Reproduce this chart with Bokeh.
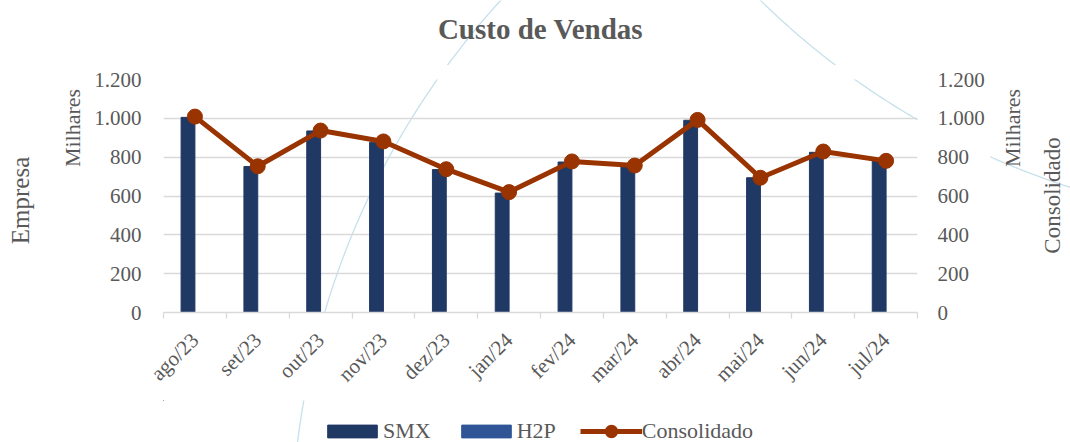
import numpy as np
from bokeh.plotting import figure
from bokeh.layouts import column, row
from bokeh.models import (Range1d, LinearAxis, FixedTicker, Legend, LegendItem, Label)
from bokeh.embed import file_html
from bokeh.resources import INLINE

# ---------------- data ----------------
months = ["ago/23", "set/23", "out/23", "nov/23", "dez/23", "jan/24",
          "fev/24", "mar/24", "abr/24", "mai/24", "jun/24", "jul/24"]
smx = [1005, 752, 935, 877, 736, 615, 775, 755, 990, 694, 825, 780]
h2p = [0, 0, 0, 0, 0, 0, 0, 0, 0, 0, 0, 0]
consolidado = [1009, 753, 937, 881, 738, 620, 778, 757, 992, 694, 829, 781]
y_ticks = [0, 200, 400, 600, 800, 1000, 1200]
y_tick_labels = ["0", "200", "400", "600", "800", "1.000", "1.200"]
series_names = ["SMX", "H2P", "Consolidado"]
title_text = "Custo de Vendas"
left_titles = ["Empresa", "Milhares"]
right_titles = ["Milhares", "Consolidado"]

# ---------------- style ----------------
FONT = "Liberation Serif"
TXT = "#595959"
GRID = "#D9D9D9"
NAVY = "#203864"
BLUE = "#2F5597"
RUST = "#993300"
ARC = "#C6E0EC"

W, H = 1070, 442
LS, RS = 88, 990                            # page x where the side strips end / start
TOP_H, MID_H, LEG_H = 65, 335, 42           # page strips: title / chart / legend
FL, FR, FT, FB = 163, 917, 79, 312          # frame edges in page px
CW = RS - LS                                # width of the centre column

n = len(months)
centers = np.arange(n) + 0.5
bounds = list(np.arange(n + 1).astype(float))

ARCS = ((1093, 540, 802, 290, 505, True), (1308, -558, 782, 755, 1075, False))

def arc_xy(cx, cy, r, x_from, x_to, upper, npts=160):
    xs = np.linspace(x_from, x_to, npts)
    d = np.sqrt(np.clip(r * r - (xs - cx) ** 2, 0, None))
    ys = cy - d if upper else cy + d
    return xs, ys

def bare(f):
    f.axis.visible = False
    f.grid.visible = False
    f.outline_line_color = None
    for a in ARCS:
        xs, ys = arc_xy(*a)
        f.line(xs, ys, line_color=ARC, line_width=1.3, level="underlay")
    return f

def strip(height, y0):
    f = figure(width=CW, height=height, x_range=Range1d(FL, FR),
               y_range=Range1d(y0 + height, y0), output_backend="svg",
               toolbar_location=None, min_border=0)
    return bare(f)

def side(x0, x1):
    f = figure(width=x1 - x0, height=H, x_range=Range1d(x0, x1), y_range=Range1d(FB, FT),
               output_backend="svg", toolbar_location=None, min_border_left=0,
               min_border_right=0, min_border_top=FT, min_border_bottom=H - FB)
    return bare(f)

def vlabel(f, text, x, y, size):
    f.add_layout(Label(x=x, y=y, text=text, angle=np.pi / 2, text_font=FONT,
                       text_font_size=size, text_color=TXT, text_align="center",
                       text_baseline="middle"))

# ---------------- side strips with the axis titles ----------------
sl = side(0, LS)
vlabel(sl, left_titles[0], 20, 200, "25px")
vlabel(sl, left_titles[1], 72, 127.5, "22px")
sr = side(RS, W)
vlabel(sr, right_titles[0], 1012, 127.5, "22px")
vlabel(sr, right_titles[1], 1052, 195, "23px")

# ---------------- title strip ----------------
tf = strip(TOP_H, 0)
tf.add_layout(Label(x=540, y=28, text=title_text, text_font=FONT, text_font_size="29px",
                    text_font_style="bold", text_color=TXT, text_align="center",
                    text_baseline="alphabetic"))

# ---------------- chart ----------------
p = figure(width=CW, height=MID_H, x_range=Range1d(0, n), y_range=Range1d(0, 1200),
           output_backend="svg", toolbar_location=None,
           min_border_left=FL - LS, min_border_right=RS - FR,
           min_border_top=FT - TOP_H, min_border_bottom=TOP_H + MID_H - FB)
p.outline_line_color = None
p.extra_y_ranges = {"cons": Range1d(0, 1200)}

p.xgrid.visible = False
p.ygrid.ticker = FixedTicker(ticks=y_ticks)
p.ygrid.grid_line_color = GRID
p.ygrid.grid_line_width = 1.3

overrides_y = {t: l for t, l in zip(y_ticks, y_tick_labels)}

def style_y(ax, standoff):
    ax.ticker = FixedTicker(ticks=y_ticks)
    ax.major_label_overrides = overrides_y
    ax.axis_line_color = None
    ax.major_tick_line_color = None
    ax.minor_tick_line_color = None
    ax.major_tick_out = 0
    ax.major_tick_in = 0
    ax.minor_tick_out = 0
    ax.minor_tick_in = 0
    ax.major_label_standoff = standoff
    ax.major_label_text_font = FONT
    ax.major_label_text_font_size = "21px"
    ax.major_label_text_color = TXT

style_y(p.yaxis[0], 22)
ry = LinearAxis(y_range_name="cons")
style_y(ry, 20)
p.add_layout(ry, "right")

xa = p.xaxis[0]
xa.ticker = FixedTicker(ticks=list(centers), minor_ticks=bounds)
xa.major_label_overrides = {float(c): m for c, m in zip(centers, months)}
xa.major_label_orientation = np.pi / 4
xa.major_tick_line_color = None
xa.major_tick_out = 0
xa.minor_tick_line_color = GRID
xa.minor_tick_line_width = 1.3
xa.minor_tick_in = 0
xa.minor_tick_out = 6
xa.axis_line_color = GRID
xa.axis_line_width = 1.3
xa.major_label_text_font = FONT
xa.major_label_text_font_size = "21px"
xa.major_label_text_color = TXT
xa.major_label_standoff = 18

# decorative arcs inside the chart frame (page px -> data)
for a in ARCS:
    xs, ys = arc_xy(*a)
    p.line((xs - FL) / (FR - FL) * n, (FB - ys) / (FB - FT) * 1200,
           line_color=ARC, line_width=1.3, level="underlay")

bw = 0.22
p.vbar(x=centers - bw / 2, top=smx, width=bw, fill_color=NAVY, line_color=NAVY)
p.vbar(x=centers + bw / 2, top=h2p, width=bw, fill_color=BLUE, line_color=BLUE)
p.line(x=centers, y=consolidado, y_range_name="cons", line_color=RUST, line_width=5)
p.scatter(x=centers, y=consolidado, y_range_name="cons", size=15,
          fill_color=RUST, line_color=RUST)

# ---------------- legend strip ----------------
lf = strip(LEG_H, TOP_H + MID_H)
g1 = lf.vbar(x=[-5000], top=[-5000], bottom=[-5001], width=1, fill_color=NAVY, line_color=NAVY)
g2 = lf.vbar(x=[-5000], top=[-5000], bottom=[-5001], width=1, fill_color=BLUE, line_color=BLUE)
g3 = lf.line(x=[-5010, -5000], y=[-5000, -5000], line_color=RUST, line_width=5)
g4 = lf.scatter(x=[-5000], y=[-5000], size=15, fill_color=RUST, line_color=RUST, line_width=7)

legend = Legend(items=[LegendItem(label=series_names[0], renderers=[g1]),
                       LegendItem(label=series_names[1], renderers=[g2]),
                       LegendItem(label=series_names[2], renderers=[g3, g4])],
                orientation="horizontal", location=(321 - FL, -2),
                glyph_width=62, glyph_height=16, label_standoff=0, spacing=24,
                padding=0, margin=0, border_line_color=None, background_fill_alpha=0,
                label_text_font=FONT, label_text_font_size="22px", label_text_color=TXT)
lf.add_layout(legend, "center")

layout = row(sl, column(tf, p, lf), sr)
open("out.html", "w").write(file_html(layout, INLINE))
